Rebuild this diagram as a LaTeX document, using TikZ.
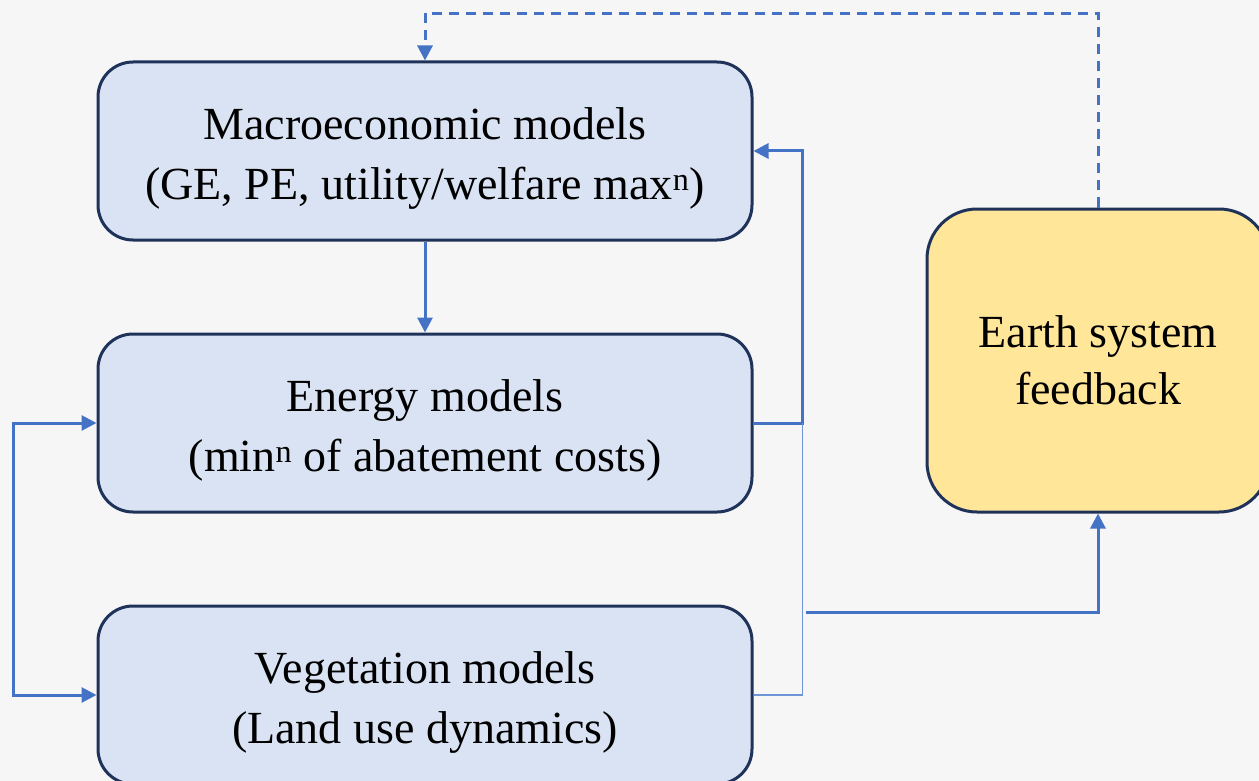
\documentclass[tikz,border=0pt]{standalone}
\usepackage{fontspec}
\setmainfont{Liberation Serif}
\usetikzlibrary{arrows.meta}
\definecolor{connc}{HTML}{4472C4}
\definecolor{thinc}{HTML}{6F95D6}
\definecolor{boxfill}{HTML}{DAE3F3}
\definecolor{boxline}{HTML}{1F3259}
\definecolor{earthfill}{HTML}{FFE699}
\definecolor{bgc}{HTML}{F6F6F6}
\newcommand{\topstrut}{\rule{0pt}{47pt}}
\begin{document}
\begin{tikzpicture}[x=1pt,y=-1pt,
  modelbox/.style={draw=boxline, line width=3pt, fill=boxfill, rounded corners=35pt,
    minimum width=654pt, minimum height=178pt, align=center, inner sep=0pt,
    font=\fontsize{46}{60}\selectfont},
  earthbox/.style={draw=boxline, line width=3pt, fill=earthfill, rounded corners=50pt,
    minimum width=342pt, minimum height=303pt, align=center, inner sep=0pt,
    font=\fontsize{46}{57}\selectfont},
  conn/.style={draw=connc, line width=3pt, -{Triangle[length=15pt,width=15pt]}},
  thinconn/.style={draw=thinc, line width=1.8pt}
]
\useasboundingbox (0,0) rectangle (1259,781);
\clip (0,0) rectangle (1259,781);
\fill[bgc] (0,0) rectangle (1259,781);

\node[modelbox] (macro) at (425,151) {\topstrut Macroeconomic models\\(GE, PE, utility/welfare max\textsuperscript{n})};
\node[modelbox] (energy) at (425,423) {\topstrut Energy models\\(min\textsuperscript{n} of abatement costs)};
\node[modelbox] (veg) at (425,695) {\topstrut Vegetation models\\(Land use dynamics)};
\node[earthbox] (earth) at (1098,360.5) {Earth system\\feedback};

\coordinate (ej) at ([xshift=49pt]energy.east);
\coordinate (es) at (806,612);

\draw[conn] (macro.south) -- (energy.north);
\draw[conn] (energy.east) -- (ej) |- (macro.east);
\draw[thinconn] (veg.east) -| (ej);
\draw[conn] (es) -| (earth.south);
\draw[conn, {Triangle[length=15pt,width=15pt]}-{Triangle[length=15pt,width=15pt]}] (energy.west) -- ++(-83,0) |- (veg.west);
\draw[conn, dash pattern=on 10pt off 7pt] (earth.north) -- ++(0,-194) -| (macro.north);
\end{tikzpicture}
\end{document}
